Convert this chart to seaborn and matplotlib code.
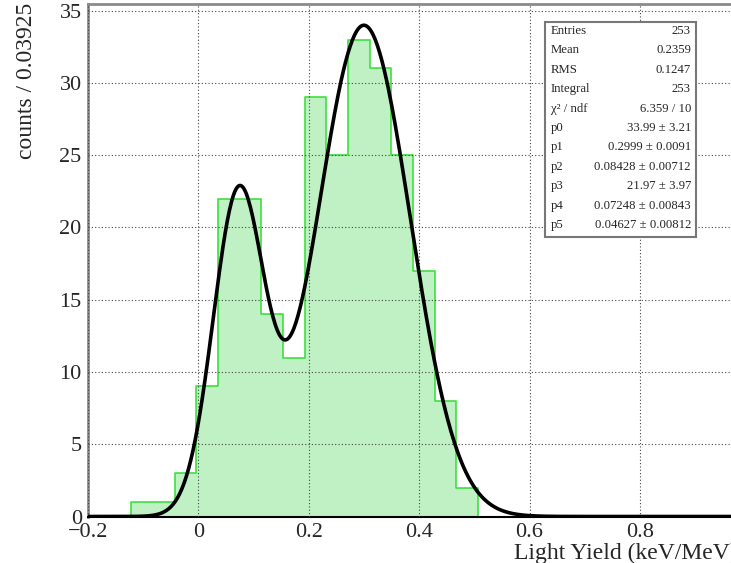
import numpy as np
import pandas as pd
import matplotlib
matplotlib.use("Agg")
import matplotlib.pyplot as plt
from matplotlib.patches import Rectangle
from matplotlib.ticker import MultipleLocator
import seaborn as sns

# Histogram binning and counts
bin_start = -0.2
bin_width = 0.03925
counts = [0, 0, 1, 1, 3, 9, 22, 22, 14, 11, 29, 25, 33, 31, 25, 17, 8, 2]

# Fit parameters from the stats box (double gaussian)
fit_params = [33.99, 0.2999, 0.08428, 21.97, 0.07248, 0.04627]

stat_labels = ["Entries", "Mean", "RMS", "Integral", "\u03c7\u00b2 / ndf",
               "p0", "p1", "p2", "p3", "p4", "p5"]
stat_values = ["253", "0.2359", "0.1247", "253", "6.359 / 10",
               "33.99 \u00b1 3.21", "0.2999 \u00b1 0.0091", "0.08428 \u00b1 0.00712",
               "21.97 \u00b1 3.97", "0.07248 \u00b1 0.00843", "0.04627 \u00b1 0.00812"]

x_ticks = [-0.2, 0, 0.2, 0.4, 0.6, 0.8]
x_tick_labels = ["\u22120.2", "0", "0.2", "0.4", "0.6", "0.8"]
y_ticks = [0, 5, 10, 15, 20, 25, 30, 35]

sns.set_style("white")
plt.rcParams["font.family"] = ["Liberation Serif", "DejaVu Serif"]

edges = [bin_start + bin_width * k for k in range(len(counts) + 1)]
centers = [0.5 * (edges[k] + edges[k + 1]) for k in range(len(counts))]
df = pd.DataFrame({"x": centers, "n": counts})

fig = plt.figure(figsize=(7.31, 5.63), dpi=100)
W, H = 731, 563
left_px, right_px, top_px, bot_px = 88, 750.3, 4, 516.5
ax = fig.add_axes([left_px / W, (H - bot_px) / H, (right_px - left_px) / W, (bot_px - top_px) / H])

# Histogram
sns.histplot(data=df, x="x", weights="n", bins=edges, element="step", fill=True,
             color="#bff1c4", edgecolor="#3fe03f", linewidth=1.2, alpha=1, ax=ax, zorder=2)

# Fit curve
p0, p1, p2, p3, p4, p5 = fit_params
xs = np.linspace(-0.2, 1.0, 600)
ys = p0 * np.exp(-0.5 * ((xs - p1) / p2) ** 2) + p3 * np.exp(-0.5 * ((xs - p4) / p5) ** 2)
sns.lineplot(x=xs, y=ys, color="black", linewidth=2.6, ax=ax, zorder=4)

ax.set_xlim(-0.2, 1.0)
ax.set_ylim(0, 35.46)
ax.set_xticks(x_ticks)
ax.set_xticklabels(x_tick_labels)
ax.set_yticks(y_ticks)
ax.xaxis.set_minor_locator(MultipleLocator(0.05))
ax.yaxis.set_minor_locator(MultipleLocator(1))
ax.tick_params(which="major", direction="in", width=1, labelsize=16, color="#333333")
ax.tick_params(which="minor", direction="in", width=1, color="#333333")
ax.tick_params(axis="x", which="major", length=10, pad=5)
ax.tick_params(axis="x", which="minor", length=5.5)
ax.tick_params(axis="y", which="major", length=14, pad=4.5)
ax.tick_params(axis="y", which="minor", length=6.5)

ax.grid(True, which="major", linestyle=(0, (1, 2)), color="#444444", linewidth=0.8, zorder=3)
ax.set_axisbelow(False)

for side in ["left", "top"]:
    ax.spines[side].set_color("#8a8a8a")
    ax.spines[side].set_linewidth(2)
ax.spines["bottom"].set_color("black")
ax.spines["bottom"].set_linewidth(1.5)
ax.spines["right"].set_visible(False)

ax.set_xlabel("Light Yield (keV/MeV)", fontsize=17, loc="left")
ax.xaxis.set_label_coords((514 - left_px) / (right_px - left_px), -0.051)
ax.set_ylabel("counts / 0.03925", fontsize=17, loc="top")
ax.yaxis.set_label_coords(-0.077, 1.002)

# Stats box
bx0, bx1, by0, by1 = 545, 696, 22, 237
fig.add_artist(Rectangle((bx0 / W, 1 - by1 / H), (bx1 - bx0) / W, (by1 - by0) / H,
                         transform=fig.transFigure, facecolor="white",
                         edgecolor="#777777", linewidth=1.5, zorder=10))
row_h = (225 - 31) / 10
for i, (lab, val) in enumerate(zip(stat_labels, stat_values)):
    yy = 1 - (31 + i * row_h) / H
    fig.text(551 / W, yy, lab, fontsize=9.2, ha="left", va="center", zorder=11)
    fig.text(691 / W, yy, val, fontsize=9.2, ha="right", va="center", zorder=11)

fig.savefig("out.png", dpi=100)
